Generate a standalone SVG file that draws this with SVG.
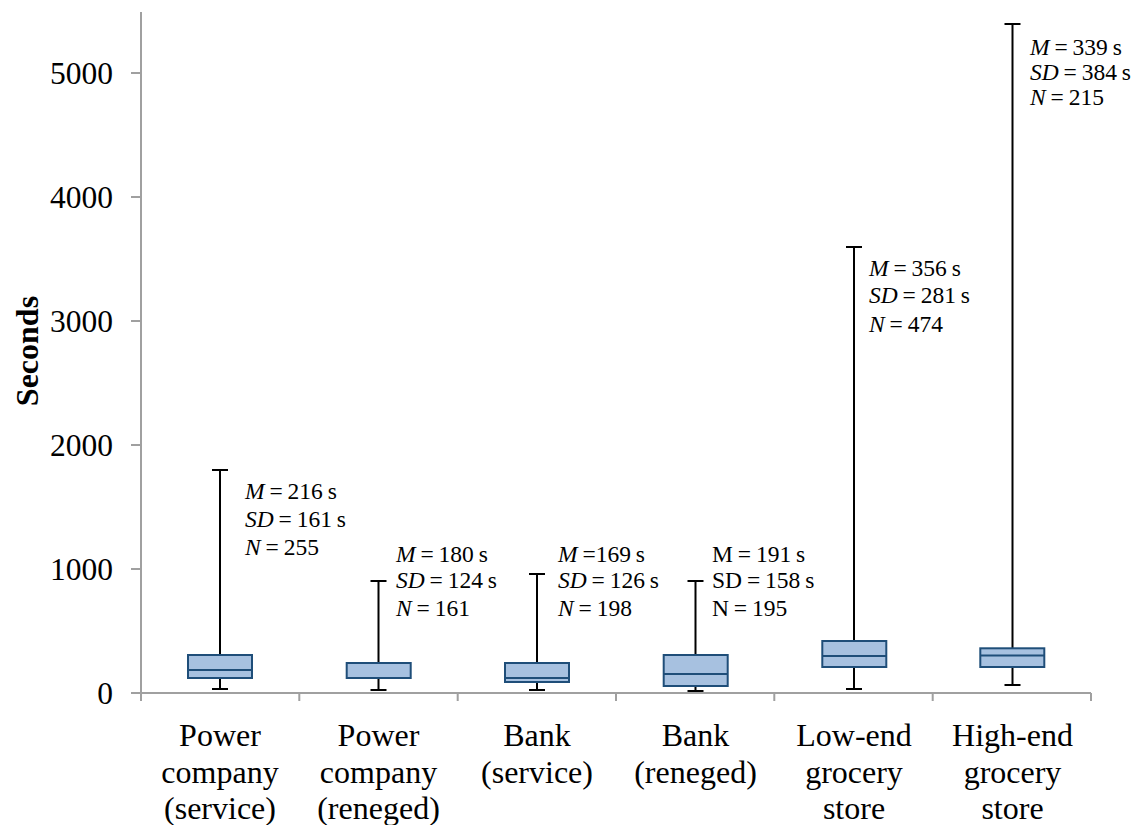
<svg xmlns="http://www.w3.org/2000/svg" width="1144" height="825" viewBox="0 0 1144 825">
<style>
.ax{stroke:#a0a0a0;stroke-width:2;fill:none}
.wh{stroke:#000;stroke-width:2;fill:none}
.bx{fill:#a7c1e0;stroke:#1f4e79;stroke-width:2}
.md{stroke:#1f4e79;stroke-width:2}
.tl{font-family:"Liberation Serif","Times New Roman",serif;font-size:31.5px;fill:#000;text-anchor:end}
.cl{font-family:"Liberation Serif","Times New Roman",serif;font-size:32px;fill:#000;text-anchor:middle}
.an{font-family:"Liberation Serif","Times New Roman",serif;font-size:23.5px;fill:#000;word-spacing:-1px}
.it{font-style:italic}
</style>
<rect width="1144" height="825" fill="#fff"/>
<g id="axes">
<path class="ax" d="M141,12V693M131,693H1091M131,569H141M131,445H141M131,321H141M131,197H141M131,73H141M141,693V701M299.3,693V701M457.7,693V701M616,693V701M774.3,693V701M932.7,693V701M1091,693V701"/>
<text class="tl" x="113" y="704">0</text>
<text class="tl" x="113" y="580">1000</text>
<text class="tl" x="113" y="456">2000</text>
<text class="tl" x="113" y="332">3000</text>
<text class="tl" x="113" y="208">4000</text>
<text class="tl" x="113" y="84">5000</text>
<text x="38" y="351" transform="rotate(-90 38 351)" text-anchor="middle" font-family="Liberation Serif, Times New Roman, serif" font-size="32" font-weight="bold">Seconds</text>
</g>
<g id="box1">
<path class="wh" d="M220,470V655M212,470H228M220,678V689M212,689H228"/>
<rect class="bx" x="188" y="655" width="64" height="23"/>
<path class="md" d="M188,670H252"/>
<text class="an" x="245" y="499"><tspan class="it">M</tspan> = 216 s</text>
<text class="an" x="245" y="527"><tspan class="it">SD</tspan> = 161 s</text>
<text class="an" x="245" y="555"><tspan class="it">N</tspan> = 255</text>
<text class="cl" x="220" y="746">Power</text>
<text class="cl" x="220" y="783">company</text>
<text class="cl" x="220" y="819">(service)</text>
</g>
<g id="box2">
<path class="wh" d="M378.5,581V663M370.5,581H386.5M378.5,678V690M370.5,690H386.5"/>
<rect class="bx" x="346.7" y="663" width="64" height="15"/>
<text class="an" x="396" y="562"><tspan class="it">M</tspan> = 180 s</text>
<text class="an" x="396" y="588"><tspan class="it">SD</tspan> = 124 s</text>
<text class="an" x="396" y="616"><tspan class="it">N</tspan> = 161</text>
<text class="cl" x="378.5" y="746">Power</text>
<text class="cl" x="378.5" y="783">company</text>
<text class="cl" x="378.5" y="819">(reneged)</text>
</g>
<g id="box3">
<path class="wh" d="M537,574V663M529,574H545M537,682V690M529,690H545"/>
<rect class="bx" x="505" y="663" width="64" height="19"/>
<path class="md" d="M505,678H569"/>
<text class="an" x="558" y="562"><tspan class="it">M</tspan> =169 s</text>
<text class="an" x="558" y="588"><tspan class="it">SD</tspan> = 126 s</text>
<text class="an" x="558" y="616"><tspan class="it">N</tspan> = 198</text>
<text class="cl" x="537" y="746">Bank</text>
<text class="cl" x="537" y="783">(service)</text>
</g>
<g id="box4">
<path class="wh" d="M695.5,581V655M687.5,581H703.5M695.5,686V691M687.5,691H703.5"/>
<rect class="bx" x="663.7" y="655" width="64" height="31"/>
<path class="md" d="M663.7,674H727.7"/>
<text class="an" x="712" y="562">M = 191 s</text>
<text class="an" x="712" y="588">SD = 158 s</text>
<text class="an" x="712" y="616">N = 195</text>
<text class="cl" x="695.5" y="746">Bank</text>
<text class="cl" x="695.5" y="783">(reneged)</text>
</g>
<g id="box5">
<path class="wh" d="M854,247V641M846,247H862M854,667V689M846,689H862"/>
<rect class="bx" x="822.3" y="641" width="64" height="26"/>
<path class="md" d="M822.3,656H886.3"/>
<text class="an" x="869" y="276"><tspan class="it">M</tspan> = 356 s</text>
<text class="an" x="869" y="303"><tspan class="it">SD</tspan> = 281 s</text>
<text class="an" x="869" y="332"><tspan class="it">N</tspan> = 474</text>
<text class="cl" x="854" y="746">Low-end</text>
<text class="cl" x="854" y="783">grocery</text>
<text class="cl" x="854" y="819">store</text>
</g>
<g id="box6">
<path class="wh" d="M1012.5,24V648M1004.5,24H1020.5M1012.5,667V685M1004.5,685H1020.5"/>
<rect class="bx" x="980.3" y="648.3" width="64" height="18.7"/>
<path class="md" d="M980.3,655.5H1044.3"/>
<text class="an" x="1030" y="55"><tspan class="it">M</tspan> = 339 s</text>
<text class="an" x="1030" y="80"><tspan class="it">SD</tspan> = 384 s</text>
<text class="an" x="1030" y="105"><tspan class="it">N</tspan> = 215</text>
<text class="cl" x="1012.5" y="746">High-end</text>
<text class="cl" x="1012.5" y="783">grocery</text>
<text class="cl" x="1012.5" y="819">store</text>
</g>
</svg>
